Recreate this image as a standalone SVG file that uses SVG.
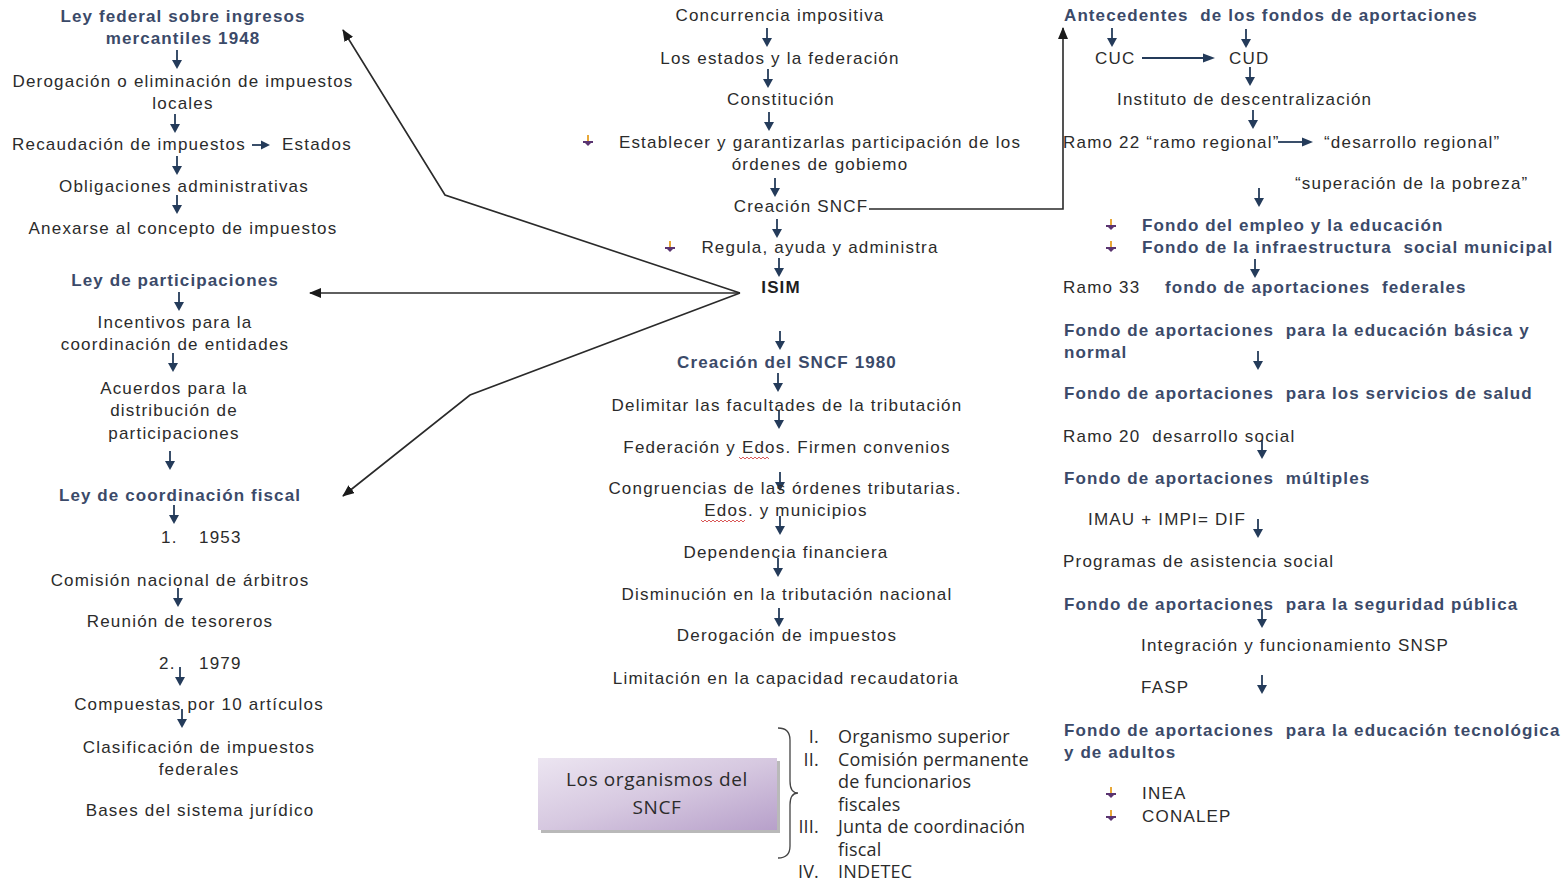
<svg xmlns="http://www.w3.org/2000/svg" xmlns:xlink="http://www.w3.org/1999/xlink" width="1564" height="883" viewBox="0 0 1564 883">
<style>
.t{font-family:"Liberation Sans",Arial,sans-serif;font-size:17px;fill:#2b2b2b;letter-spacing:1.2px}
.b{font-weight:bold;fill:#3b4a69;letter-spacing:1.1px}
.c{text-anchor:middle}
.o{font-family:"Open Sans","Liberation Sans",sans-serif;font-size:18px;fill:#2b2b2b;letter-spacing:0.2px}
.e{text-anchor:end}
.con{fill:none;stroke:#2a2a2a;stroke-width:1.6}
.sa{stroke:#243b5a;stroke-width:1.8;fill:none}
.sh{fill:#243b5a}
.sp{fill:none;stroke:#d03030;stroke-width:0.8}
</style>
<defs>
<marker id="ah" viewBox="0 0 12 10" refX="11" refY="5" markerWidth="12" markerHeight="10" markerUnits="userSpaceOnUse" orient="auto">
<path d="M0,0 L12,5 L0,10 Z" fill="#1a1a1a"/>
</marker>
<g id="da"><line x1="0" y1="0" x2="0" y2="12" stroke="#243b5a" stroke-width="1.8"/><path d="M-5,10 L5,10 L0,19 Z" fill="#243b5a"/></g>
<g id="bl"><rect x="-1" y="-7" width="2" height="7" fill="#e8a838"/><rect x="-5" y="-1" width="10" height="2" fill="#5a3470"/><path d="M-3,1 L3,1 L0,4 Z" fill="#5a3470"/></g>
<linearGradient id="bg" x1="0" y1="0" x2="1" y2="1">
<stop offset="0" stop-color="#ece5f1"/><stop offset="0.5" stop-color="#d6c8e0"/><stop offset="1" stop-color="#b7a0ca"/>
</linearGradient>
</defs>
<rect width="1564" height="883" fill="#ffffff"/>

<g id="connectors">
<path class="con" d="M740,293 L445,195 L343,30" marker-end="url(#ah)"/>
<path class="con" d="M740,293 L310,293" marker-end="url(#ah)"/>
<path class="con" d="M740,293 L470,395 L343,496" marker-end="url(#ah)"/>
<path class="con" d="M869,209 L1063,209 L1063,28" marker-end="url(#ah)"/>
<use xlink:href="#da" x="177" y="50"/>
<use xlink:href="#da" x="175" y="114"/>
<use xlink:href="#da" x="177" y="156"/>
<use xlink:href="#da" x="177" y="195"/>
<use xlink:href="#da" x="179" y="292"/>
<use xlink:href="#da" x="173" y="353"/>
<use xlink:href="#da" x="170" y="451"/>
<use xlink:href="#da" x="174" y="505"/>
<use xlink:href="#da" x="178" y="588"/>
<use xlink:href="#da" x="180" y="667"/>
<use xlink:href="#da" x="182" y="709"/>
<use xlink:href="#da" x="767" y="28"/>
<use xlink:href="#da" x="768" y="69"/>
<use xlink:href="#da" x="769" y="112"/>
<use xlink:href="#da" x="775" y="178"/>
<use xlink:href="#da" x="777" y="219"/>
<use xlink:href="#da" x="779" y="258"/>
<use xlink:href="#da" x="780" y="331"/>
<use xlink:href="#da" x="778" y="373"/>
<use xlink:href="#da" x="779" y="410"/>
<use xlink:href="#da" x="780" y="472"/>
<use xlink:href="#da" x="780" y="516"/>
<use xlink:href="#da" x="778" y="558"/>
<use xlink:href="#da" x="779" y="608"/>
<use xlink:href="#da" x="1112" y="28"/>
<use xlink:href="#da" x="1246" y="29"/>
<use xlink:href="#da" x="1250" y="67"/>
<use xlink:href="#da" x="1253" y="110"/>
<use xlink:href="#da" x="1259" y="188"/>
<use xlink:href="#da" x="1255" y="259"/>
<use xlink:href="#da" x="1258" y="351"/>
<use xlink:href="#da" x="1262" y="440"/>
<use xlink:href="#da" x="1258" y="519"/>
<use xlink:href="#da" x="1262" y="609"/>
<use xlink:href="#da" x="1262" y="675"/>
<line class="sa" x1="252" y1="145" x2="262" y2="145"/><path class="sh" d="M261,140.5 L270,145 L261,149.5 Z"/>
<line class="sa" x1="1142" y1="58" x2="1205" y2="58"/><path class="sh" d="M1203,53.5 L1215,58 L1203,62.5 Z"/>
<line class="sa" x1="1278" y1="142" x2="1304" y2="142"/><path class="sh" d="M1302,137.5 L1313,142 L1302,146.5 Z"/>
</g>

<g id="n-ley-federal"><text class="t b c" x="183" y="22">Ley federal sobre ingresos</text><text class="t b c" x="183" y="44">mercantiles 1948</text></g>
<g id="n-derogacion"><text class="t c" x="183" y="87">Derogación o eliminación de impuestos</text><text class="t c" x="183" y="109">locales</text></g>
<g id="n-recaudacion"><text class="t" x="12" y="150">Recaudación de impuestos</text><text class="t" x="282" y="150">Estados</text></g>
<g id="n-obligaciones"><text class="t c" x="184" y="192">Obligaciones administrativas</text></g>
<g id="n-anexarse"><text class="t c" x="183" y="234">Anexarse al concepto de impuestos</text></g>
<g id="n-ley-part"><text class="t b c" x="175" y="286">Ley de participaciones</text></g>
<g id="n-incentivos"><text class="t c" x="175" y="328">Incentivos para la</text><text class="t c" x="175" y="350">coordinación de entidades</text></g>
<g id="n-acuerdos"><text class="t c" x="174" y="394">Acuerdos para la</text><text class="t c" x="174" y="416">distribución de</text><text class="t c" x="174" y="439">participaciones</text></g>
<g id="n-ley-coord"><text class="t b c" x="180" y="501">Ley de coordinación fiscal</text></g>
<g id="n-1953"><text class="t" x="161" y="543">1.</text><text class="t" x="199" y="543">1953</text></g>
<g id="n-comision"><text class="t c" x="180" y="586">Comisión nacional de árbitros</text></g>
<g id="n-reunion"><text class="t c" x="180" y="627">Reunión de tesoreros</text></g>
<g id="n-1979"><text class="t" x="159" y="669">2.</text><text class="t" x="199" y="669">1979</text></g>
<g id="n-compuestas"><text class="t c" x="199" y="710">Compuestas por 10 artículos</text></g>
<g id="n-clasificacion"><text class="t c" x="199" y="753">Clasificación de impuestos</text><text class="t c" x="199" y="775">federales</text></g>
<g id="n-bases"><text class="t c" x="200" y="816">Bases del sistema jurídico</text></g>

<g id="m-concurrencia"><text class="t c" x="780" y="21">Concurrencia impositiva</text></g>
<g id="m-estados"><text class="t c" x="780" y="64">Los estados y la federación</text></g>
<g id="m-constitucion"><text class="t c" x="781" y="105">Constitución</text></g>
<g id="m-establecer"><use xlink:href="#bl" x="588" y="142"/><text class="t c" x="820" y="148">Establecer y garantizarlas participación de los</text><text class="t c" x="820" y="170">órdenes de gobiemo</text></g>
<g id="m-creacion"><text class="t c" x="801" y="212">Creación SNCF</text></g>
<g id="m-regula"><use xlink:href="#bl" x="670" y="248"/><text class="t c" x="820" y="253">Regula, ayuda y administra</text></g>
<g id="m-isim"><text class="t b c" x="781" y="293" style="fill:#1e1e1e">ISIM</text></g>
<g id="m-creacion1980"><text class="t b c" x="787" y="368">Creación del SNCF 1980</text></g>
<g id="m-delimitar"><text class="t c" x="787" y="411">Delimitar las facultades de la tributación</text></g>
<g id="m-federacion"><text class="t c" x="787" y="453">Federación y Edos. Firmen convenios</text><path class="sp" d="M739,457 l2,2 l2,-2 l2,2 l2,-2 l2,2 l2,-2 l2,2 l2,-2 l2,2 l2,-2 l2,2 l2,-2 l2,2 l2,-2 l2,2"/></g>
<g id="m-congruencias"><text class="t c" x="785" y="494">Congruencias de las órdenes tributarias.</text><text class="t c" x="786" y="516">Edos. y municipios</text><path class="sp" d="M701,520 l2,2 l2,-2 l2,2 l2,-2 l2,2 l2,-2 l2,2 l2,-2 l2,2 l2,-2 l2,2 l2,-2 l2,2 l2,-2 l2,2 l2,-2 l2,2 l2,-2 l2,2 l2,-2 l2,2 l2,-2"/></g>
<g id="m-dependencia"><text class="t c" x="786" y="558">Dependencia financiera</text></g>
<g id="m-disminucion"><text class="t c" x="787" y="600">Disminución en la tributación nacional</text></g>
<g id="m-derogacion"><text class="t c" x="787" y="641">Derogación de impuestos</text></g>
<g id="m-limitacion"><text class="t c" x="786" y="684">Limitación en la capacidad recaudatoria</text></g>

<g id="m-organismos">
<rect x="541" y="761" width="239" height="72" fill="#8a8a8a" opacity="0.6"/>
<rect x="538" y="758" width="239" height="72" fill="url(#bg)"/>
<text class="o c" x="657" y="786" style="font-size:19px;letter-spacing:0.6px">Los organismos del</text>
<text class="o c" x="657" y="814" style="font-size:19px;letter-spacing:0.6px">SNCF</text>
</g>
<g id="m-lista">
<path d="M778,728 Q790,728 790,740 L790,781 Q790,793 798,793 Q790,793 790,805 L790,846 Q790,858 778,858" fill="none" stroke="#444" stroke-width="1.3"/>
<text class="o e" x="819" y="743">I.</text><text class="o" x="838" y="743">Organismo superior</text>
<text class="o e" x="819" y="766">II.</text><text class="o" x="838" y="766">Comisión permanente</text>
<text class="o" x="838" y="788">de funcionarios</text>
<text class="o" x="838" y="811">fiscales</text>
<text class="o e" x="819" y="833">III.</text><text class="o" x="838" y="833">Junta de coordinación</text>
<text class="o" x="838" y="856">fiscal</text>
<text class="o e" x="819" y="878">IV.</text><text class="o" x="838" y="878">INDETEC</text>
</g>

<g id="r-antecedentes"><text class="t b" x="1064" y="21" xml:space="preserve">Antecedentes  de los fondos de aportaciones</text></g>
<g id="r-cuc"><text class="t" x="1095" y="64">CUC</text></g>
<g id="r-cud"><text class="t" x="1229" y="64">CUD</text></g>
<g id="r-instituto"><text class="t" x="1117" y="105">Instituto de descentralización</text></g>
<g id="r-ramo22"><text class="t" x="1063" y="148">Ramo 22 “ramo regional”</text><text class="t" x="1324" y="148">“desarrollo regional”</text></g>
<g id="r-superacion"><text class="t" x="1295" y="189">“superación de la pobreza”</text></g>
<g id="r-fondo-empleo"><use xlink:href="#bl" x="1111" y="226"/><text class="t b" x="1142" y="231">Fondo del empleo y la educación</text></g>
<g id="r-fondo-infra"><use xlink:href="#bl" x="1111" y="248"/><text class="t b" x="1142" y="253" xml:space="preserve">Fondo de la infraestructura  social municipal</text></g>
<g id="r-ramo33"><text class="t" x="1063" y="293">Ramo 33</text><text class="t b" x="1165" y="293" xml:space="preserve">fondo de aportaciones  federales</text></g>
<g id="r-faeb"><text class="t b" x="1064" y="336" xml:space="preserve">Fondo de aportaciones  para la educación básica y</text><text class="t b" x="1064" y="358">normal</text></g>
<g id="r-fassa"><text class="t b" x="1064" y="399" xml:space="preserve">Fondo de aportaciones  para los servicios de salud</text></g>
<g id="r-ramo20"><text class="t" x="1063" y="442" xml:space="preserve">Ramo 20  desarrollo social</text></g>
<g id="r-fam"><text class="t b" x="1064" y="484" xml:space="preserve">Fondo de aportaciones  múltiples</text></g>
<g id="r-imau"><text class="t" x="1088" y="525">IMAU + IMPI= DIF</text></g>
<g id="r-programas"><text class="t" x="1063" y="567">Programas de asistencia social</text></g>
<g id="r-fasp-fondo"><text class="t b" x="1064" y="610" xml:space="preserve">Fondo de aportaciones  para la seguridad pública</text></g>
<g id="r-snsp"><text class="t" x="1141" y="651">Integración y funcionamiento SNSP</text></g>
<g id="r-fasp"><text class="t" x="1141" y="693">FASP</text></g>
<g id="r-faeta"><text class="t b" x="1064" y="736" xml:space="preserve">Fondo de aportaciones  para la educación tecnológica</text><text class="t b" x="1064" y="758">y de adultos</text></g>
<g id="r-inea"><use xlink:href="#bl" x="1111" y="794"/><text class="t" x="1142" y="799">INEA</text></g>
<g id="r-conalep"><use xlink:href="#bl" x="1111" y="817"/><text class="t" x="1142" y="822">CONALEP</text></g>
</svg>
